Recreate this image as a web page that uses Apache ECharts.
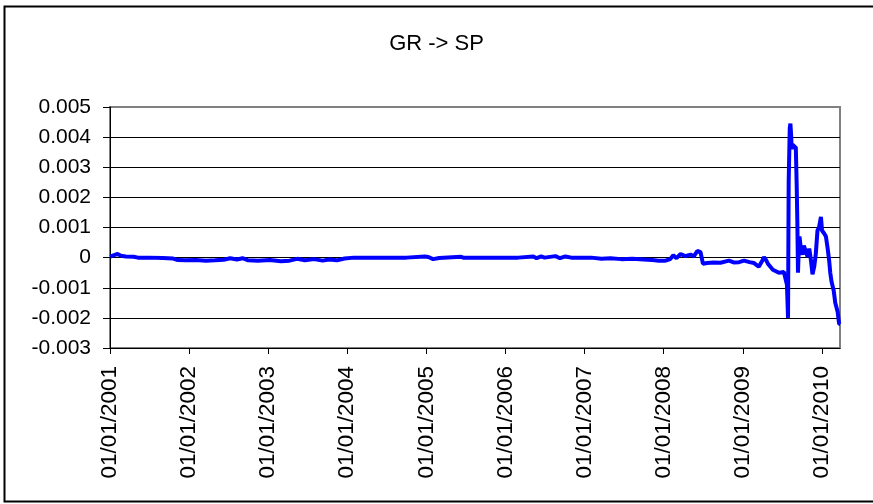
<!DOCTYPE html>
<html>
<head>
<meta charset="utf-8" />
<style>
  html, body { margin: 0; padding: 0; background: #fff; }
  #main { width: 873px; height: 504px; }
</style>
</head>
<body>
<div id="main"></div>
<script src="https://cdn.jsdelivr.net/npm/echarts@6/dist/echarts.min.js"></script>
<script>
// GR -> SP series
var dates = [
  '2001-01-02','2001-01-20','2001-02-05','2001-02-20','2001-03-15','2001-04-20','2001-05-10','2001-07-01',
  '2001-09-01','2001-10-20','2001-11-10','2001-12-15','2002-02-01','2002-03-20','2002-05-01','2002-06-10',
  '2002-07-10','2002-08-10','2002-09-05','2002-10-01','2002-11-15','2003-01-10','2003-03-01','2003-04-10',
  '2003-05-15','2003-06-20','2003-08-01','2003-09-10','2003-10-10','2003-11-15','2003-12-20','2004-02-01',
  '2004-06-01','2004-10-01','2004-12-25','2005-01-10','2005-02-01','2005-03-01','2005-06-10','2005-06-20',
  '2005-10-01','2006-03-01','2006-05-10','2006-05-25','2006-06-15','2006-07-01','2006-08-20','2006-09-10',
  '2006-10-05','2006-11-01','2007-02-01','2007-03-20','2007-05-01','2007-06-20','2007-08-10','2007-10-01',
  '2007-11-10','2007-12-10','2008-01-10','2008-02-01','2008-02-15','2008-03-01','2008-03-20','2008-04-10',
  '2008-05-05','2008-05-20','2008-06-05','2008-06-20','2008-07-01','2008-07-20','2008-08-20','2008-09-20',
  '2008-10-29','2008-11-20','2008-12-15','2009-01-07','2009-02-01','2009-02-22','2009-03-16','2009-04-01',
  '2009-04-09','2009-04-20','2009-04-27','2009-05-20','2009-06-17','2009-07-10','2009-07-19','2009-07-24',
  '2009-07-29','2009-08-01','2009-08-06','2009-08-09','2009-08-12','2009-08-15','2009-08-19','2009-08-26',
  '2009-09-03','2009-09-07','2009-09-10','2009-09-13','2009-09-17','2009-09-20','2009-09-26','2009-10-04',
  '2009-10-10','2009-10-19','2009-10-27','2009-11-04','2009-11-12','2009-11-19','2009-11-27','2009-12-04',
  '2009-12-12','2009-12-19','2009-12-28','2010-01-02','2010-01-12','2010-01-20','2010-01-28','2010-02-04',
  '2010-02-09','2010-02-15','2010-02-25','2010-03-04','2010-03-15','2010-03-22','2010-03-26'
];
var values = [
  0.00003, 0.00008, 0.00012, 0.00006, 0.00004, 0.00003, 0, 0,
  -0.00001, -0.00003, -0.00008, -0.00009, -0.00008, -0.0001, -0.00009, -0.00007,
  -0.00002, -0.00006, -0.00002, -0.00009, -0.0001, -0.00008, -0.00012, -0.0001,
  -0.00004, -0.00009, -0.00005, -0.0001, -0.00006, -0.00009, -0.00003, 0,
  0, 0, 0.00004, 0.00002, -0.00005, -0.00001, 0.00003, 0,
  0, 0, 0.00004, -0.00002, 0.00004, 0, 0.00005, -0.00002,
  0.00004, 0, 0, -0.00004, -0.00002, -0.00005, -0.00004, -0.00006,
  -0.00008, -0.0001, -0.0001, -0.00005, 0.00008, -0.00002, 0.00012, 0.00005,
  0.0001, 0.00004, 0.00022, 0.00018, -0.0002, -0.00018, -0.00016, -0.00017,
  -0.0001, -0.00016, -0.00015, -0.0001, -0.00015, -0.00018, -0.0003, -0.0001,
  0.00002, -0.0001, -0.0002, -0.0004, -0.0005, -0.00048, -0.0005, -0.0009,
  -0.002, 0.0025, 0.0043, 0.00445, 0.0041, 0.0036, 0.00375, 0.0037,
  0.00365, 0.0024, 0.0012, -0.0005, 0.0004, 0.0007, 0.0003, 0.0001,
  0.0004, 0.0004, 0.00003, 0.0003, -0.0001, -0.00055, -0.0003, 0.0001,
  0.0009, 0.001, 0.00135, 0.0009, 0.0008, 0.0007, 0.0003, -0.0001,
  -0.0005, -0.0008, -0.0011, -0.0015, -0.0018, -0.0022, -0.0022
];
var tickYears = [2001, 2002, 2003, 2004, 2005, 2006, 2007, 2008, 2009, 2010];

function ts(s) {
  var p = s.split('-');
  return Date.UTC(+p[0], +p[1] - 1, +p[2]);
}
var seriesData = dates.map(function (d, i) { return [ts(d), values[i]]; });
var tickValues = tickYears.map(function (y) { return Date.UTC(y, 0, 1); });

var chart = echarts.init(document.getElementById('main'));
var font = 'Liberation Sans, Arial, sans-serif';
chart.setOption({
  animation: false,
  backgroundColor: '#fff',
  title: {
    text: 'GR -> SP',
    left: 'center',
    top: 28,
    textStyle: { fontFamily: font, fontSize: 22, fontWeight: 'normal', color: '#000' }
  },
  graphic: [{
    type: 'rect',
    shape: { x: 4.5, y: 6.5, width: 880, height: 495 },
    style: { fill: 'none', stroke: '#000', lineWidth: 2 },
    silent: true
  }],
  grid: {
    left: 110, right: 33, top: 107, bottom: 156,
    show: true, borderColor: '#808080', borderWidth: 2, backgroundColor: 'transparent'
  },
  xAxis: {
    // timestamps on a plain value axis, ticks placed on each 1 January
    type: 'value',
    min: ts('2001-01-01'),
    max: ts('2010-03-26'),
    axisLine: { onZero: false, lineStyle: { color: '#000', width: 1 } },
    axisTick: { show: true, length: 6, customValues: tickValues, lineStyle: { color: '#000' } },
    axisLabel: {
      customValues: tickValues,
      rotate: 90,
      margin: 18,
      color: '#000',
      fontFamily: font,
      fontSize: 22.5,
      formatter: function (v) { return '01/01/' + new Date(v).getUTCFullYear(); }
    },
    splitLine: { show: false }
  },
  yAxis: {
    type: 'value',
    min: -0.003,
    max: 0.005,
    interval: 0.001,
    axisLine: { show: true, lineStyle: { color: '#000', width: 1 } },
    axisTick: { show: true, length: 7, lineStyle: { color: '#000' } },
    axisLabel: {
      margin: 19,
      color: '#000',
      fontFamily: font,
      fontSize: 21,
      formatter: function (v) { return Math.abs(v) < 1e-10 ? '0' : v.toFixed(3); }
    },
    splitLine: { show: true, showMaxLine: false, lineStyle: { color: '#000', width: 1 } }
  },
  series: [{
    type: 'line',
    data: seriesData,
    showSymbol: false,
    lineStyle: { color: '#0000ff', width: 4 },
    itemStyle: { color: '#0000ff' }
  }]
});
</script>
</body>
</html>
